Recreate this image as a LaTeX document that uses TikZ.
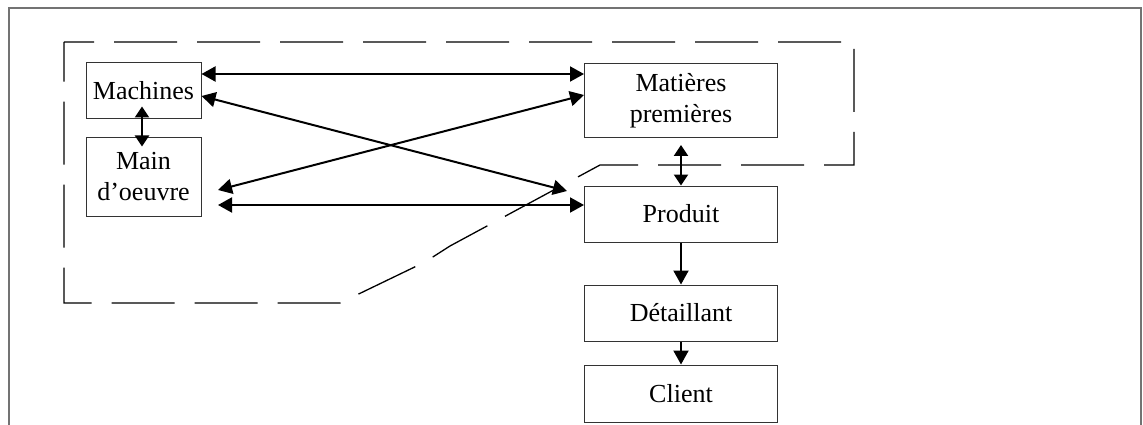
\documentclass[tikz,border=0pt]{standalone}
\usepackage{fontspec}
\setmainfont{Liberation Serif}
\usetikzlibrary{arrows.meta,calc}
\tikzset{
  box/.style={draw=black!80,line width=1pt,rectangle,inner sep=0pt,align=center,
              font=\fontsize{26}{31}\selectfont},
  link/.style={line width=2pt,-{Triangle[length=14pt,width=15pt]}},
  dbl/.style={line width=2pt,{Triangle[length=14pt,width=15pt]}-{Triangle[length=14pt,width=15pt]}},
  short/.style={line width=2pt,{Triangle[length=11pt,width=14pt]}-{Triangle[length=11pt,width=14pt]}},
  zone/.style={line width=1.3pt,dash pattern=on 63pt off 20pt,dash phase=33pt},
  frame/.style={line width=1.4pt,draw=black!55}
}
\begin{document}
\begin{tikzpicture}[x=1pt,y=-1pt]
  \useasboundingbox (0,0) rectangle (1143,425);
  % open outer frame
  \draw[frame] (9,425) -- (9,8) -- (1141,8) -- (1141,425);

  % production zone
  \draw[zone] (64,42) -- (854,42) -- (854,165) -- (600,165) -- (450,246)
     -- (425,262) -- (340,303) -- (64,303) -- cycle;

  % boxes
  \node[box,minimum width=115pt,minimum height=56pt] (mach) at (143.5,91) {Machines};
  \node[box,minimum width=115pt,minimum height=78pt] (main) at (143.5,177) {Main\\d’oeuvre};
  \node[box,minimum width=193pt,minimum height=74pt] (mat) at (681,101) {Matières\\premières};
  \node[box,minimum width=193pt,minimum height=56pt] (prod) at (681,214) {Produit};
  \node[box,minimum width=193pt,minimum height=56pt] (det) at (681,313) {Détaillant};
  \node[box,minimum width=193pt,minimum height=57pt] (cli) at (681,393.5) {Client};

  % free ends of the crossing arrows
  \coordinate (pend) at (567,191);
  \coordinate (mstart) at (218,190);
  \coordinate (pstart) at (218,205);
  \coordinate (mtop) at (681,145);

  % links
  \draw[dbl] (mach.east |- 0,74) -- (mat.west |- 0,74);
  \draw[dbl] (mach.east |- 0,96) -- (pend);
  \draw[dbl] (mstart) -- (mat.west |- 0,95);
  \draw[dbl] (pstart) -- (prod.west |- 0,205);
  \draw[short] ([yshift=13pt]mach.south -| 142,0) -- ([yshift=-9pt]main.north -| 142,0);
  \draw[short] (mtop) -- (prod.north);
  \draw[link] (prod.south) -- (det.north);
  \draw[link] (det.south) -- (cli.north);
\end{tikzpicture}
\end{document}
